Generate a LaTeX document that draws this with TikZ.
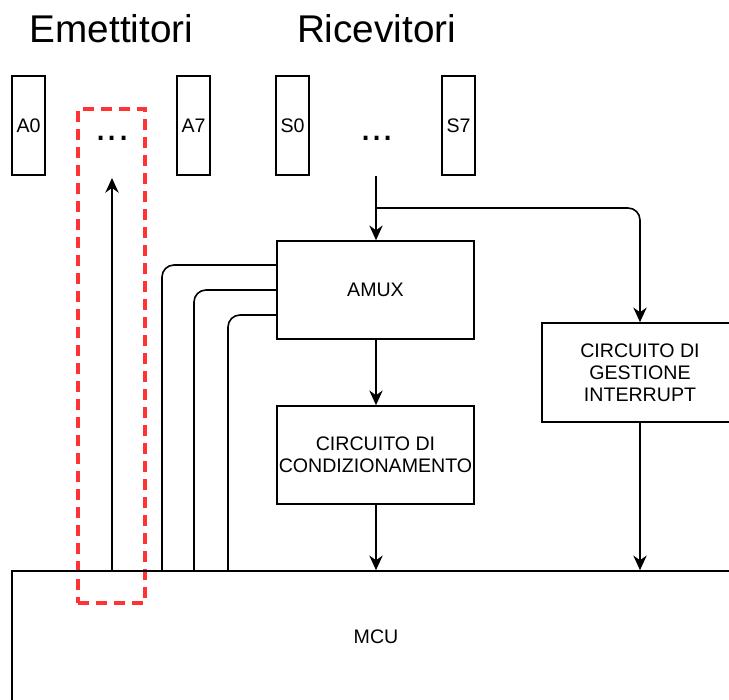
\documentclass[tikz,border=0pt]{standalone}
\usepackage{fontspec}
\setmainfont{Liberation Sans}
\usetikzlibrary{arrows.meta}

\definecolor{selred}{RGB}{255,51,51}
\tikzset{every picture/.style={line width=1.2pt}}
\tikzset{
  pinbox/.style={draw, minimum width=24.75pt, minimum height=74.25pt, inner sep=0pt, font=\fontsize{14.7}{16.5}\selectfont},
  block/.style={draw, minimum width=147.75pt, minimum height=73.5pt, inner sep=0pt, align=center, font=\fontsize{14.7}{16.5}\selectfont},
  heading/.style={font=\fontsize{29}{34}\selectfont, anchor=base},
  dotsnode/.style={font=\fontsize{30}{34}\selectfont, anchor=base, inner sep=0pt},
  arr/.style={-{Stealth[length=11pt,width=10pt,inset=3.5pt]}},
}

\begin{document}
\begin{tikzpicture}[x=0.75pt,y=0.75pt,yscale=-1,xscale=1,line width=1.2pt]
\useasboundingbox (0,0) rectangle (729,700);

% Titles
\node[heading] (emit) at (111.5,42) {Emettitori};
\node[heading] (ricev) at (376.5,42) {Ricevitori};

% Text Node
\node[pinbox] (a0) at (28.5,125.5) {A0};
\node[dotsnode] (edots) at (112.5,140) {...};
\node[pinbox] (a7) at (193.5,125.5) {A7};
\node[pinbox] (s0) at (292.5,125.5) {S0};
\node[dotsnode] (sdots) at (377,140) {...};
\node[pinbox] (s7) at (458.5,125.5) {S7};

% selection
\node[draw=selred, line width=2.4pt, dash pattern=on 8.25pt off 5.25pt, minimum width=50.25pt, minimum height=370.5pt] (sel) at (111.5,356) {};

% Blocks
\node[block] (amux) at (375.5,290) {AMUX};
\node[block] (cond) at (375.5,455) {CIRCUITO DI\\CONDIZIONAMENTO};
\node[block, minimum width=147pt, minimum height=74.25pt] (intr) at (640,372.5) {CIRCUITO DI\\GESTIONE\\INTERRUPT};
\node[draw, minimum width=546pt, minimum height=99pt, inner sep=0pt, font=\fontsize{14.7}{16.5}\selectfont] (mcu) at (376,637) {MCU};

\coordinate (rtop) at (376,176);
\coordinate (rsplit) at (376,208);
\coordinate (etip) at (112,178);
\coordinate (m1) at (162,571);
\coordinate (m2) at (194,571);
\coordinate (m3) at (228,571);

% Connection
\draw[arr] (rtop) -- (rtop |- amux.north);
\draw[arr, rounded corners=9pt] (rsplit) -| (intr.north);
\draw[arr] (rtop |- amux.south) -- (rtop |- cond.north);
\draw[arr] (rtop |- cond.south) -- (rtop |- mcu.north);
\draw[arr] (intr.south) -- (intr.south |- mcu.north);
\draw[arr] (mcu.north -| etip) -- (etip);
% Connection
\draw[rounded corners=9pt] ([yshift=-18.75pt]amux.west) -| (m1);
\draw[rounded corners=9pt] (amux.west) -| (m2);
\draw[rounded corners=9pt] ([yshift=18.75pt]amux.west) -| (m3);

\end{tikzpicture}
\end{document}
